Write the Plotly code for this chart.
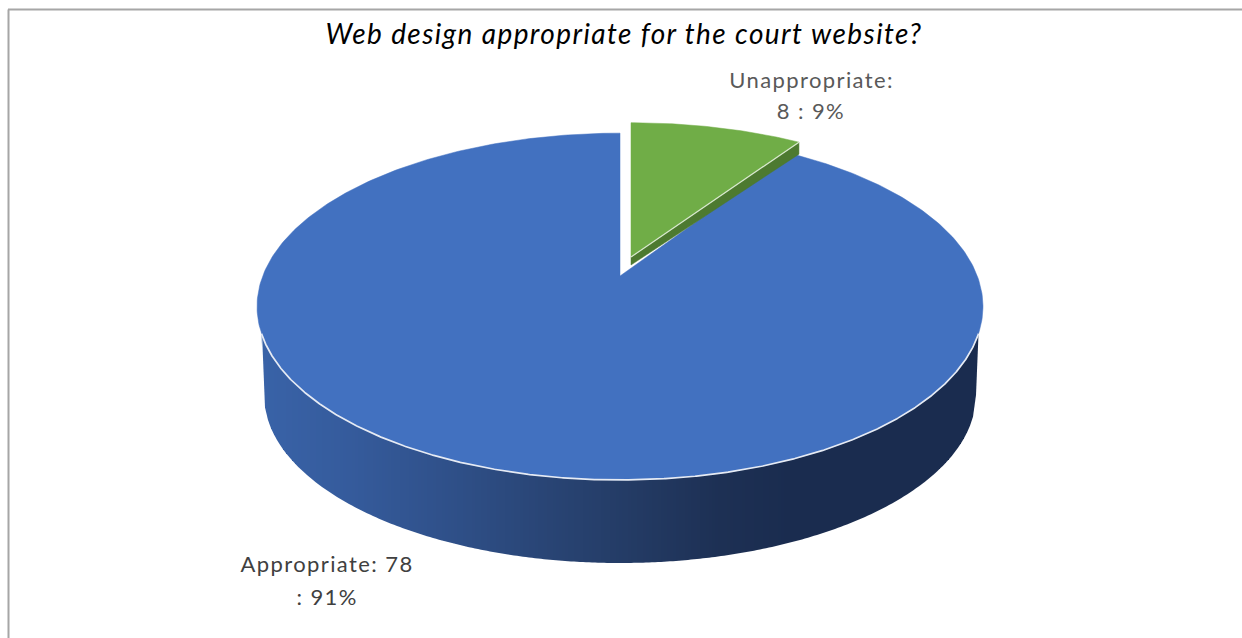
import numpy as np
import plotly.graph_objects as go

# --- data ---
title = "Web design appropriate for the court website?"
labels = ["Unappropriate", "Appropriate"]
values = [8, 78]
percents = [9, 91]

# --- drawing style / pie projection ---
BLUE, GREEN, GREEN_SIDE = "#4271c0", "#70ad47", "#4d7a30"
CX, APEX_Y, K, A, B = 620.0, 276.0, 0.176, 168.0, 357.3
TOP_CY, TOP_RX, TOP_RY = 306.5, 363.0, 173.5
BOT_CY, BOT_RX, BOT_RY = 395.0, 356.0, 168.0
SIDE_STOPS = [(258, (57, 99, 168)), (350, (53, 91, 156)), (450, (47, 80, 137)),
              (560, (40, 67, 114)), (640, (35, 58, 99)), (720, (29, 48, 84)),
              (790, (26, 44, 79)), (990, (26, 44, 79))]


def project(theta, ox=CX, oy=APEX_Y, sx=1.0, sy=1.0):
    """Perspective image of a point on the pie rim; theta clockwise from 12 o'clock."""
    d = 1 + K * np.cos(theta)
    return ox + sx * B * np.sin(theta) / d, oy - sy * A * np.cos(theta) / d


def side_colour(x):
    xs = [s[0] for s in SIDE_STOPS]
    rgb = [np.interp(x, xs, [s[1][i] for s in SIDE_STOPS]) for i in range(3)]
    return "rgb(%d,%d,%d)" % tuple(int(round(c)) for c in rgb)


def poly(x, y, fill, line=None, w=0.8):
    return go.Scatter(x=list(x), y=list(y), mode="lines", fill="toself", fillcolor=fill,
                      line=dict(color=line or fill, width=w), hoverinfo="skip", showlegend=False)


fig = go.Figure()
split = 2 * np.pi * values[0] / sum(values)

# outline of the side wall: front edge of the top face and lower silhouette
s = np.linspace(-1, 1, 721)
top_phi, bot_phi = s * np.radians(81), s * np.radians(90)
tx, ty = CX + TOP_RX * np.sin(top_phi), TOP_CY + TOP_RY * np.cos(top_phi)
bx, by = CX + BOT_RX * np.sin(bot_phi), BOT_CY + BOT_RY * np.cos(bot_phi)
# the silhouette joins the rim at both ends
sil_x = np.r_[tx[0], bx, tx[-1]]
sil_y = np.r_[ty[0], by, ty[-1]]
tx_i, ty_i = tx[::-1] * 0 + tx, ty  # left-to-right already

# screen-aligned columns so the shading has clean vertical bands
STEP = 3
cols = np.arange(int(np.ceil(tx[0])), int(np.floor(tx[-1])), STEP)
cols = np.r_[tx[0], cols, tx[-1]]
for x0, x1 in zip(cols[:-1], cols[1:]):
    t0, t1 = np.interp([x0, x1], tx, ty) - 2
    b0, b1 = np.interp([x0, x1], sil_x, sil_y)
    fig.add_trace(go.Scatter(x=[x0, x1, x1, x0, x0], y=[t0, t1, b1, b0, t0], mode="lines",
                             fill="toself", fillcolor=side_colour((x0 + x1) / 2),
                             line=dict(width=0), hoverinfo="skip", showlegend=False))

# larger slice: top face
th = np.linspace(split, 2 * np.pi, 400)
px, py = project(th)
fig.add_trace(poly(np.r_[CX, px, CX], np.r_[APEX_Y, py, APEX_Y], BLUE, w=0.5))

# light rim along the front edge of the top face
fig.add_trace(go.Scatter(x=tx, y=ty, mode="lines", line=dict(color="#e6ebf4", width=1.7),
                         hoverinfo="skip", showlegend=False))

# smaller slice, pulled out of the pie
GX, GY, GSX, GSY = 631.0, 257.0, 0.977, 0.94
th = np.linspace(0, split, 60)
gx, gy = project(th, GX, GY, GSX, GSY)
fig.add_trace(poly([GX, gx[-1], gx[-1], GX, GX], [GY, gy[-1], gy[-1] + 12, GY + 8, GY],
                   GREEN_SIDE, w=0.5))
fig.add_trace(poly(np.r_[GX, gx, GX], np.r_[GY, gy, GY], GREEN, w=0.5))
fig.add_trace(go.Scatter(x=[GX, gx[-1]], y=[GY, gy[-1]], mode="lines",
                         line=dict(color="#d9e8cf", width=1.2), hoverinfo="skip", showlegend=False))

# frame of the chart area
fig.add_shape(type="line", x0=8.5, x1=8.5, y0=9.5, y1=638, line=dict(color="#a6a6a6", width=2))
fig.add_shape(type="line", x0=8, x1=1242, y0=9.5, y1=9.5, line=dict(color="#a6a6a6", width=2))

FONT = "Lato"


def label(x, y, text, size, colour):
    fig.add_annotation(x=x, y=y, text=text, showarrow=False, xanchor="center", yanchor="middle",
                       font=dict(family=FONT, size=size, color=colour))


label(624, 33, f"<i>{title}</i>", 28, "#000000")
label(811, 79, f"{labels[0]}:", 22, "#595959")
label(811, 110, f"{values[0]} : {percents[0]}%", 22, "#595959")
label(327, 563, f"{labels[1]}: {values[1]}", 22, "#404040")
label(327, 596, f": {percents[1]}%", 22, "#404040")

fig.update_layout(width=1242, height=638, autosize=False, margin=dict(l=0, r=0, t=0, b=0),
                  paper_bgcolor="white", plot_bgcolor="white", showlegend=False,
                  xaxis=dict(range=[0, 1242], visible=False, fixedrange=True),
                  yaxis=dict(range=[638, 0], visible=False, fixedrange=True))
fig.write_html("out.html", config={"displayModeBar": False},
               post_script="document.body.style.margin='0';document.body.style.overflow='hidden';"
                           "document.querySelectorAll('.annotation-text').forEach("
                           "function(t){t.style.letterSpacing='1.4px';});")
